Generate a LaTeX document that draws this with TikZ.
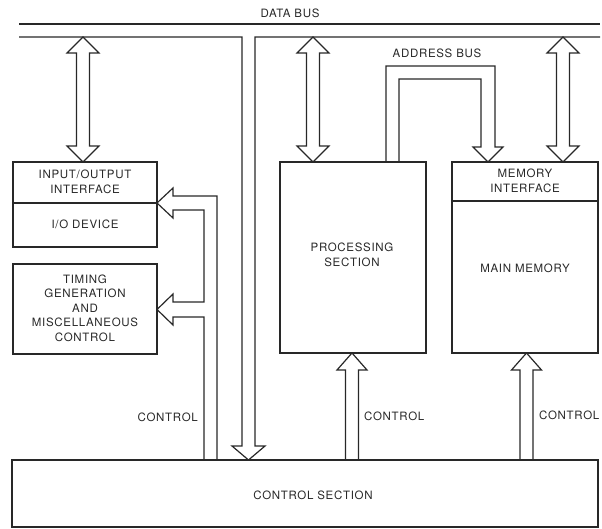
\documentclass[tikz,border=0pt]{standalone}
\usepackage{fontspec}
\setmainfont{TeX Gyre Heros}[LetterSpace=6]
\usetikzlibrary{calc}
\definecolor{ink}{RGB}{40,40,40}
\tikzset{
  box/.style={draw=ink, line width=2.4pt, minimum width=#1, inner sep=0pt},
  thin/.style={draw=ink, line width=1.2pt, line join=miter},
  lbl/.style={text=ink, font=\fontsize{11.5}{14.5}\selectfont, align=center, inner sep=0pt},
}
\begin{document}
\begin{tikzpicture}[x=1pt,y=-1pt]
\useasboundingbox (0,0) rectangle (602,529);
% boxes
\node[box=144pt, minimum height=85pt] (io) at (85,204.5) {};
\node[box=144pt, minimum height=90pt] (tim) at (85,309) {};
\node[box=146pt, minimum height=191pt] (proc) at (353,257.5) {};
\node[box=146pt, minimum height=191pt] (mem) at (525,257.5) {};
\node[box=586pt, minimum height=67pt] (ctrl) at (305,493.5) {};
\draw[draw=ink, line width=2.4pt] (io.west |- 0,203) -- (io.east |- 0,203);
\draw[draw=ink, line width=2.4pt] (mem.west |- 0,201) -- (mem.east |- 0,201);
% texts
\node[lbl] (tio) at (85,182) {INPUT/OUTPUT\\INTERFACE};
\node[lbl] (tdev) at (85,224) {I/O DEVICE};
\node[lbl] (ttim) at (85,308) {TIMING\\GENERATION\\AND\\MISCELLANEOUS\\CONTROL};
\node[lbl] (tproc) at (352,255) {PROCESSING\\SECTION};
\node[lbl] (tmi) at (525,181) {MEMORY\\INTERFACE};
\node[lbl] (tmm) at (525,268) {MAIN MEMORY};
\node[lbl] (tctrl) at (313,495) {CONTROL SECTION};
\node[lbl] (tdb) at (290,13) {DATA BUS};
\node[lbl] (tab) at (437,53) {ADDRESS BUS};
\node[lbl, anchor=east] (tc1) at (198,417) {CONTROL};
\node[lbl, anchor=west] (tc2) at (364,416) {CONTROL};
\node[lbl, anchor=west] (tc3) at (539,415) {CONTROL};
% data bus
\coordinate (dbL) at (19,24);
\coordinate (dbR) at (600,24);
\draw[thin] (dbL) -- (dbR);
\draw[thin] (19,37) -- (242,37) -- (242,446) -- (232,446) -- (248.5,460) -- (265,446) -- (255,446) -- (255,37) -- (600,37);
% double arrows
\newcommand{\dblarr}[3]{% x, ytop, ybot
  \draw[thin] (#1,#2) -- (#1+16,#2+16) -- (#1+6.5,#2+16) -- (#1+6.5,#3-16) -- (#1+16,#3-16) -- (#1,#3)
   -- (#1-16,#3-16) -- (#1-6.5,#3-16) -- (#1-6.5,#2+16) -- (#1-16,#2+16) -- cycle;}
\dblarr{83}{37}{162}
\dblarr{313}{37}{162}
\dblarr{563}{37}{162}
% address bus
\draw[thin] (386,162) -- (386,66) -- (495,66) -- (495,147) -- (503,147) -- (488,162) -- (473,147) -- (481,147) -- (481,79) -- (399,79) -- (399,162);
% control up arrows
\newcommand{\uparr}[1]{%
  \draw[thin] (#1-6.5,460) -- (#1-6.5,370) -- (#1-15,370) -- (#1,353) -- (#1+15,370) -- (#1+6.5,370) -- (#1+6.5,460);}
\uparr{352}
\uparr{526.5}
% left control channel
\draw[thin] (217,460) -- (217,196) -- (173,196) -- (173,188) -- (157,203) -- (173,218) -- (173,210) -- (204,210)
  -- (204,302) -- (173,302) -- (173,294) -- (157,309.5) -- (173,325) -- (173,317) -- (204,317) -- (204,460);
\end{tikzpicture}
\end{document}
